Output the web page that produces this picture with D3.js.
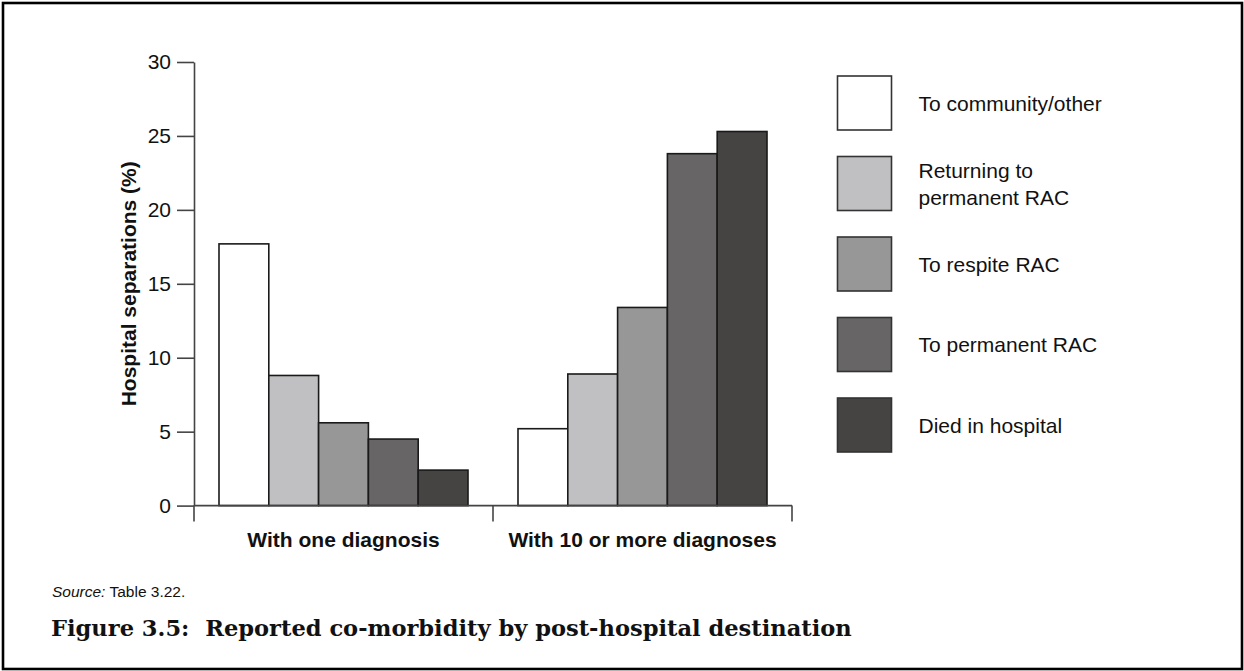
<!DOCTYPE html>
<html>
<head>
<meta charset="utf-8">
<script src="https://cdn.jsdelivr.net/npm/d3@7"></script>
<style>
  html, body { margin: 0; padding: 0; background: #fff; }
  svg { display: block; }
  text { font-family: "Liberation Sans", Arial, sans-serif; fill: #111; }
</style>
</head>
<body>
<svg id="chart" width="1244" height="671"></svg>
<script>
// ---- data ----
const categories = ["With one diagnosis", "With 10 or more diagnoses"];
const series = ["To community/other", "Returning to permanent RAC", "To respite RAC", "To permanent RAC", "Died in hospital"];
const legendLabels = [["To community/other"], ["Returning to", "permanent RAC"], ["To respite RAC"], ["To permanent RAC"], ["Died in hospital"]];
const valuesOneDiagnosis = [17.7, 8.8, 5.6, 4.5, 2.4];
const valuesTenPlus = [5.2, 8.9, 13.4, 23.8, 25.3];
const yTicks = [0, 5, 10, 15, 20, 25, 30];
const colors = ["#ffffff", "#c0c0c2", "#979797", "#676566", "#454443"];
const sourceText = "Table 3.22.";
const titleText = "Figure 3.5:\u00a0\u00a0Reported co-morbidity by post-hospital destination";

const data = categories.map((c, i) => ({
  category: c,
  values: (i === 0 ? valuesOneDiagnosis : valuesTenPlus).map((v, j) => ({ series: series[j], value: v }))
}));

const svg = d3.select("#chart");

// frame
svg.append("rect")
  .attr("x", 3).attr("y", 3).attr("width", 1239).attr("height", 666)
  .attr("fill", "#fff").attr("stroke", "#000").attr("stroke-width", 2.6);

const plotLeft = 194, plotRight = 792, plotTop = 62, plotBottom = 505.6;

const x0 = d3.scaleBand().domain(categories).range([plotLeft, plotRight]).padding(0);
const pad = x0.bandwidth() * 0.0836;
const x1 = d3.scaleBand().domain(series).range([pad, x0.bandwidth() - pad]).padding(0);
const y = d3.scaleLinear().domain([0, 30]).range([plotBottom, plotTop]);

// bars
const groups = svg.append("g").selectAll("g").data(data).join("g")
  .attr("transform", d => `translate(${x0(d.category)},0)`);
groups.selectAll("rect").data(d => d.values).join("rect")
  .attr("x", d => x1(d.series))
  .attr("y", d => y(d.value))
  .attr("width", x1.bandwidth())
  .attr("height", d => y(0) - y(d.value))
  .attr("fill", (d, i) => colors[i])
  .attr("stroke", "#1a1a1a")
  .attr("stroke-width", 1.6);

// y axis
const yAxis = svg.append("g")
  .attr("transform", `translate(${plotLeft},0)`)
  .call(d3.axisLeft(y).tickValues(yTicks).tickSize(17).tickSizeOuter(0).tickPadding(6));
yAxis.select(".domain").attr("stroke", "#444").attr("stroke-width", 1.6);
yAxis.selectAll(".tick line").attr("stroke", "#444").attr("stroke-width", 1.6);
yAxis.selectAll(".tick text")
  .style("font-family", '"Liberation Sans", Arial, sans-serif')
  .style("font-size", "21px").attr("fill", "#111");

// x axis: line + boundary ticks
const xAxisG = svg.append("g");
xAxisG.append("line")
  .attr("x1", plotLeft).attr("x2", plotRight)
  .attr("y1", y(0)).attr("y2", y(0))
  .attr("stroke", "#444").attr("stroke-width", 1.6);
const boundaries = categories.map(c => x0(c)).concat([x0(categories[categories.length - 1]) + x0.bandwidth()]);
xAxisG.selectAll("line.b").data(boundaries).join("line")
  .attr("class", "b")
  .attr("x1", d => d).attr("x2", d => d)
  .attr("y1", y(0)).attr("y2", y(0) + 16)
  .attr("stroke", "#444").attr("stroke-width", 1.6);
xAxisG.selectAll("text").data(categories).join("text")
  .attr("x", d => x0(d) + x0.bandwidth() / 2)
  .attr("y", 547)
  .attr("text-anchor", "middle")
  .style("font-size", "21px").style("font-weight", "bold")
  .text(d => d);

// y axis title
svg.append("text")
  .attr("transform", `translate(136,${(plotTop + plotBottom) / 2}) rotate(-90)`)
  .attr("text-anchor", "middle")
  .style("font-size", "21px").style("font-weight", "bold")
  .text("Hospital separations (%)");

// legend
const legend = svg.append("g").attr("transform", "translate(837.5,76)");
const li = legend.selectAll("g").data(series).join("g")
  .attr("transform", (d, i) => `translate(0,${i * 80.5})`);
li.append("rect")
  .attr("width", 54).attr("height", 54)
  .attr("fill", (d, i) => colors[i])
  .attr("stroke", "#333").attr("stroke-width", 1.6);
li.each(function (d, i) {
  const lines = legendLabels[i];
  const t = d3.select(this).append("text")
    .attr("x", 81)
    .style("font-size", "21px");
  const lh = 27;
  const startY = 27 + 7.5 - (lines.length - 1) * lh / 2;
  lines.forEach((l, k) => {
    t.append("tspan").attr("x", 81).attr("y", startY + k * lh).text(l);
  });
});

// source
const src = svg.append("text").attr("x", 52).attr("y", 597).style("font-size", "15.5px");
src.append("tspan").style("font-style", "italic").text("Source:");
src.append("tspan").text(" " + sourceText);

// figure title (font size fitted to the reference's width)
const title = svg.append("text")
  .attr("x", 51).attr("y", 636)
  .style("font-family", '"DejaVu Serif", "Liberation Serif", serif')
  .style("font-size", "22px").style("font-weight", "bold")
  .text(titleText);
const natural = title.node().getComputedTextLength();
title.style("font-size", (22 * 801 / natural).toFixed(2) + "px");
</script>
</body>
</html>
